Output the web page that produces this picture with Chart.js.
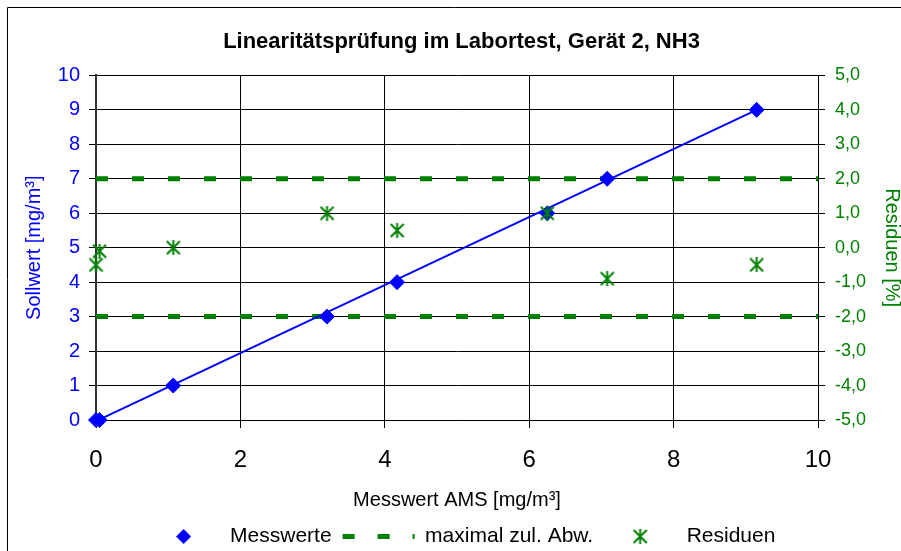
<!DOCTYPE html>
<html>
<head>
<meta charset="utf-8">
<title>Linearitätsprüfung NH3</title>
<script src="https://cdn.jsdelivr.net/npm/chart.js@4.4.1/dist/chart.umd.min.js"></script>
<style>
  body { margin: 0; background: #fff; }
  canvas { display: block; }
</style>
</head>
<body>
<canvas id="myChart" width="901" height="551"></canvas>
<script>
// Messwerte: x = Messwert AMS, y = Sollwert
const messX = [0, 0.05, 1.07, 3.2, 4.17, 6.25, 7.08, 9.15];
const messY = [0, 0, 1, 3, 4, 6, 7, 9];
// Residuen in % (rechte Achse), gleiche x-Werte
const resY = [-0.5, -0.1, 0.0, 1.0, 0.5, 1.0, -0.9, -0.5];
// Ausgleichsgerade
const trendX = [0, 9.15];
const trendY = [-0.03, 9.0];
// maximal zulaessige Abweichung
const limX = [0, 10];
const limUpper = [2, 2];
const limLower = [-2, -2];

const blue = '#0000ff';
const green = '#008000';
const fontFamily = '"Liberation Sans", Arial, sans-serif';

function toPoints(xs, ys) {
    return xs.map(function(x, i) { return { x: x, y: ys[i] }; });
}

// asterisk marker (x + vertical bar)
function makeStar(size, color) {
    const c = document.createElement('canvas');
    c.width = size;
    c.height = size;
    const g = c.getContext('2d');
    g.strokeStyle = color;
    g.lineWidth = 2;
    g.beginPath();
    g.moveTo(1, 1); g.lineTo(size - 1, size - 1);
    g.moveTo(size - 1, 1); g.lineTo(1, size - 1);
    g.moveTo(size / 2, 0); g.lineTo(size / 2, size);
    g.stroke();
    return c;
}

function makeDiamond(size, color) {
    const c = document.createElement('canvas');
    c.width = size;
    c.height = size;
    const g = c.getContext('2d');
    g.fillStyle = color;
    g.beginPath();
    g.moveTo(size / 2, 0);
    g.lineTo(size, size / 2);
    g.lineTo(size / 2, size);
    g.lineTo(0, size / 2);
    g.closePath();
    g.fill();
    return c;
}

const starImg = makeStar(15, green);
const diamondImg = makeDiamond(15, blue);

// outer frame like the exported picture
const framePlugin = {
    id: 'frame',
    afterDraw: function(chart) {
        const c = chart.ctx;
        c.save();
        c.strokeStyle = '#000';
        c.lineWidth = 1;
        c.beginPath();
        c.moveTo(7.5, chart.height);
        c.lineTo(7.5, 7.5);
        c.lineTo(chart.width, 7.5);
        c.stroke();
        c.restore();
    }
};

const ctx = document.getElementById('myChart').getContext('2d');

const myChart = new Chart(ctx, {
    type: 'scatter',
    data: {
        datasets: [{
            label: 'Messwerte',
            data: toPoints(messX, messY),
            yAxisID: 'y',
            pointStyle: 'rectRot',
            pointRadius: 7.5,
            pointBackgroundColor: blue,
            pointBorderColor: blue,
            pointBorderWidth: 1,
            showLine: false,
            clip: false,
            order: 2
        }, {
            label: 'Trend',
            data: toPoints(trendX, trendY),
            yAxisID: 'y',
            showLine: true,
            borderColor: blue,
            borderWidth: 2,
            pointRadius: 0,
            clip: false,
            order: 3
        }, {
            label: 'maximal zul. Abw.',
            data: toPoints(limX, limUpper),
            yAxisID: 'y2',
            showLine: true,
            borderColor: green,
            borderWidth: 5,
            borderDash: [12, 24],
            borderCapStyle: 'butt',
            pointRadius: 0,
            clip: false,
            order: 4
        }, {
            label: 'maximal zul. Abw. unten',
            data: toPoints(limX, limLower),
            yAxisID: 'y2',
            showLine: true,
            borderColor: green,
            borderWidth: 5,
            borderDash: [12, 24],
            borderCapStyle: 'butt',
            pointRadius: 0,
            clip: false,
            order: 4
        }, {
            label: 'Residuen',
            data: toPoints(messX, resY),
            yAxisID: 'y2',
            pointStyle: starImg,
            showLine: false,
            clip: false,
            order: 1
        }]
    },
    options: {
        responsive: false,
        animation: false,
        layout: {
            padding: { left: 22, right: 0, top: 0, bottom: -6 }
        },
        scales: {
            x: {
                type: 'linear',
                min: 0,
                max: 10,
                afterFit: function(scale) { scale.height = 95; },
                ticks: {
                    stepSize: 2,
                    color: '#000',
                    padding: 18,
                    font: { family: fontFamily, size: 24 }
                },
                grid: {
                    color: '#000',
                    lineWidth: 1,
                    tickLength: 8
                },
                border: { color: '#000', width: 1 },
                title: {
                    display: true,
                    text: 'Messwert AMS [mg/m³]',
                    color: '#000',
                    padding: { top: 0, bottom: 3 },
                    font: { family: fontFamily, size: 20 }
                }
            },
            y: {
                position: 'left',
                min: 0,
                max: 10,
                afterFit: function(scale) { scale.width = 74; },
                ticks: {
                    stepSize: 1,
                    color: blue,
                    padding: 9,
                    font: { family: fontFamily, size: 20 }
                },
                grid: {
                    color: '#000',
                    lineWidth: 1,
                    tickLength: 7
                },
                border: { color: '#333', width: 2 },
                title: {
                    display: true,
                    text: 'Sollwert [mg/m³]',
                    color: blue,
                    padding: { top: 0, bottom: 0 },
                    font: { family: fontFamily, size: 20 }
                }
            },
            y2: {
                position: 'right',
                min: -5,
                max: 5,
                afterFit: function(scale) { scale.width = 83; },
                ticks: {
                    stepSize: 1,
                    color: green,
                    padding: 10,
                    font: { family: fontFamily, size: 18 },
                    callback: function(value) {
                        return value.toFixed(1).replace('.', ',');
                    }
                },
                grid: {
                    drawOnChartArea: false,
                    color: '#000',
                    tickLength: 7
                },
                border: { color: '#000', width: 1 },
                title: {
                    display: true,
                    text: 'Residuen [%]',
                    color: green,
                    padding: { top: -3, bottom: 0 },
                    font: { family: fontFamily, size: 20 }
                }
            }
        },
        plugins: {
            title: {
                display: true,
                text: 'Linearitätsprüfung im Labortest, Gerät 2, NH3',
                color: '#000',
                padding: { top: 29, bottom: 20 },
                font: { family: fontFamily, size: 22, weight: 'bold' }
            },
            legend: {
                display: true,
                position: 'bottom',
                labels: {
                    usePointStyle: true,
                    pointStyleWidth: 72,
                    boxHeight: 15,
                    padding: 11,
                    color: '#000',
                    font: { family: fontFamily, size: 21 },
                    generateLabels: function(chart) {
                        const ds = chart.data.datasets;
                        return [{
                            text: ds[0].label,
                            pointStyle: diamondImg,
                            fillStyle: blue,
                            strokeStyle: blue,
                            lineWidth: 0,
                            fontColor: '#000',
                            hidden: false,
                            datasetIndex: 0
                        }, {
                            text: ds[2].label,
                            pointStyle: 'line',
                            fillStyle: green,
                            strokeStyle: green,
                            lineWidth: 5,
                            lineDash: [12, 23],
                            lineCap: 'butt',
                            fontColor: '#000',
                            hidden: false,
                            datasetIndex: 2
                        }, {
                            text: ds[4].label,
                            pointStyle: starImg,
                            fillStyle: green,
                            strokeStyle: green,
                            lineWidth: 0,
                            fontColor: '#000',
                            hidden: false,
                            datasetIndex: 4
                        }];
                    }
                }
            },
            tooltip: { enabled: false }
        }
    },
    plugins: [framePlugin]
});
</script>
</body>
</html>
